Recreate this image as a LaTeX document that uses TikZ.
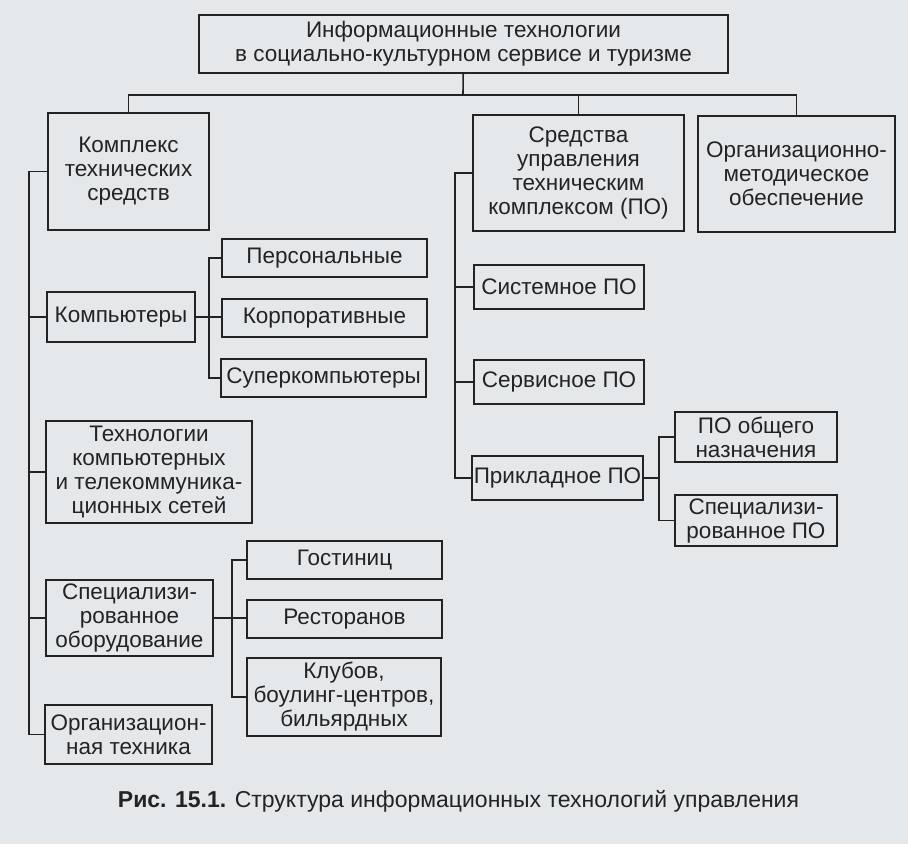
\documentclass[tikz,border=0pt]{standalone}
\usepackage{fontspec}
\setmainfont{Liberation Sans}
\usepackage{tikz}
\usetikzlibrary{positioning}

\definecolor{scanbg}{HTML}{E4E8EA}
\definecolor{ink}{HTML}{232323}

\begin{document}
\begin{tikzpicture}[x=1pt, y=-1pt, line width=1.6pt,
        box/.style={draw=ink, text=ink, align=center, inner sep=0pt, font=\fontsize{22.5}{24}\selectfont},
        wh/.style 2 args={minimum width=#1pt, minimum height=#2pt}]
        % Page background
        \fill[scanbg] (0,0) rectangle (908,844);

        % Draw the top box and the three main groups
        \node[box, wh={529}{58}] (InfoTech) at (463.5,44) {Информационные технологии\\в социально-культурном сервисе и туризме};
        \node[box, wh={161}{117}] (TechKompl) at (128.5,171.5) {Комплекс\\технических\\средств};
        \node[box, wh={211}{116}] (SoftCtrl) at (578.5,173) {Средства\\управления\\техническим\\комплексом (ПО)};
        \node[box, wh={197}{116}] (OrgMet) at (796.5,174) {Организационно-\\методическое\\обеспечение};

        % Draw the left column boxes
        \node[box, wh={148}{50}] (Computers) at (121,317) {Компьютеры};
        \node[box, wh={206}{102}] (TeleNet) at (149,472) {Технологии\\компьютерных\\и телекоммуника-\\ционных сетей};
        \node[box, wh={167}{76}] (SpecEquip) at (129.5,618) {Специализи-\\рованное\\оборудование};
        \node[box, wh={167}{59}] (OrgTech) at (128.5,734.5) {Организацион-\\ная техника};

        % Draw the computer kinds
        \node[box, wh={205}{38}] (Personal) at (324.5,258) {Персональные};
        \node[box, wh={205}{38}] (Corporate) at (324.5,318) {Корпоративные};
        \node[box, wh={205}{38}] (SuperComp) at (323.5,378) {Суперкомпьютеры};

        % Draw the equipment kinds
        \node[box, wh={195}{38}] (Hotels) at (344.5,560) {Гостиниц};
        \node[box, wh={195}{38}] (Restaurants) at (344.5,619) {Ресторанов};
        \node[box, wh={194}{78}] (Clubs) at (344,697) {Клубов,\\боулинг-центров,\\бильярдных};

        % Draw the software boxes
        \node[box, wh={170}{44}] (SysSoft) at (559,287) {Системное ПО};
        \node[box, wh={170}{44}] (ServSoft) at (559,382) {Сервисное ПО};
        \node[box, wh={171}{44}] (AppSoft) at (557.5,478) {Прикладное ПО};
        \node[box, wh={162}{50}] (GenSoft) at (756,437) {ПО общего\\назначения};
        \node[box, wh={162}{51}] (SpecSoft) at (756,520.5) {Специализи-\\рованное ПО};

        % Bus coordinates
        \coordinate (TopBus) at (463,95);
        \coordinate (LeftBus) at (29,0);
        \coordinate (CompBus) at (209,0);
        \coordinate (EquipBus) at (232,0);
        \coordinate (SoftBus) at (455,0);
        \coordinate (AppBus) at (659,0);

        % Draw the lines from the top box to the groups
        \draw[ink] (InfoTech) -- (TopBus);
        \draw[ink] (TechKompl.north) -- (TechKompl.north |- TopBus) -| (OrgMet.north);
        \draw[ink] (SoftCtrl.north) -- (SoftCtrl.north |- TopBus);

        % Draw the left bus
        \draw[ink] (TechKompl.west) -- (TechKompl.west -| LeftBus) |- (OrgTech.west);
        \draw[ink] (Computers.west) -- (Computers.west -| LeftBus);
        \draw[ink] (TeleNet.west) -- (TeleNet.west -| LeftBus);
        \draw[ink] (SpecEquip.west) -- (SpecEquip.west -| LeftBus);

        % Draw the computer bus
        \draw[ink] (Personal.west) -- (Personal.west -| CompBus) |- (SuperComp.west);
        \draw[ink] (Computers.east) -- (Computers.east -| Corporate.west);

        % Draw the equipment bus
        \draw[ink] (Hotels.west) -- (Hotels.west -| EquipBus) |- (Clubs.west);
        \draw[ink] (SpecEquip.east) -- (SpecEquip.east -| Restaurants.west);

        % Draw the software bus
        \draw[ink] (SoftCtrl.west) -- (SoftCtrl.west -| SoftBus) |- (AppSoft.west);
        \draw[ink] (SysSoft.west) -- (SysSoft.west -| SoftBus);
        \draw[ink] (ServSoft.west) -- (ServSoft.west -| SoftBus);

        % Draw the application bus
        \draw[ink] (GenSoft.west) -- (GenSoft.west -| AppBus) |- (SpecSoft.west);
        \draw[ink] (AppSoft.east) -- (AppSoft.east -| AppBus);

        % Caption
        \node[text=ink, font=\fontsize{23}{24}\selectfont] (Caption) at (458.5,801) {\textbf{Рис. 15.1.} Структура информационных технологий управления};
\end{tikzpicture}
\end{document}
